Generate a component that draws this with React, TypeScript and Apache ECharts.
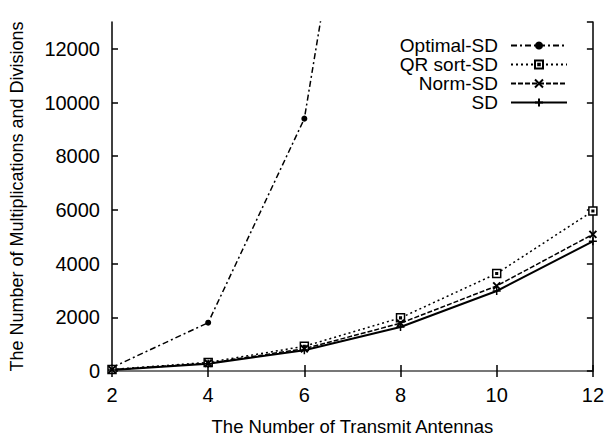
import React, { useEffect, useRef } from "react";
import * as echarts from "echarts";

const antennas = [2, 4, 6, 8, 10, 12];
const optimalSD = [130, 1800, 9400, 31000, 80000, 200000];
const qrSortSD = [60, 320, 920, 1980, 3630, 5960];
const normSD = [50, 290, 830, 1780, 3170, 5090];
const sd = [40, 270, 770, 1640, 2980, 4830];
const seriesNames = ["Optimal-SD", "QR sort-SD", "Norm-SD", "SD"];

const FONT = "Liberation Sans, Arial, sans-serif";

const pairs = (ys: number[]) => antennas.map((x, i) => [x, ys[i]]);

export default function App() {
  const ref = useRef<HTMLDivElement>(null);
  useEffect(() => {
    if (!ref.current) return;
    const chart = echarts.init(ref.current, undefined, { renderer: "svg" });
    const hLine = { show: true, lineStyle: { color: "#777", width: 2 } };
    const vLine = { show: true, lineStyle: { color: "#000", width: 1.5 } };
    const tick = { show: true, inside: true, length: 6, lineStyle: { color: "#000", width: 1.5 } };
    const label = { fontFamily: FONT, fontSize: 20, color: "#000" };
    const common = {
      type: "line",
      color: "#000",
      animation: false,
      clip: true,
      showAllSymbol: true,
    };
    chart.setOption({
      animation: false,
      backgroundColor: "#fff",
      grid: { left: 112, right: 13, top: 22, bottom: 61, containLabel: false },
      legend: {
        orient: "vertical",
        align: "right",
        right: 34,
        top: 31,
        itemWidth: 56,
        itemHeight: 10,
        itemGap: 0,
        textStyle: { fontFamily: FONT, fontSize: 19, color: "#000", padding: [0, 8, 0, 0] },
        data: seriesNames,
      },
      xAxis: [
        {
          type: "value",
          min: 2,
          max: 12,
          interval: 2,
          axisLine: hLine,
          axisTick: tick,
          axisLabel: { ...label, margin: 14 },
          splitLine: { show: false },
          name: "The Number of Transmit Antennas",
          nameLocation: "middle",
          nameGap: 46,
          nameTextStyle: { fontFamily: FONT, fontSize: 18.5, color: "#000" },
        },
        {
          type: "value",
          position: "top",
          min: 2,
          max: 12,
          interval: 2,
          axisLine: hLine,
          axisTick: tick,
          axisLabel: { show: false },
          splitLine: { show: false },
        },
      ],
      yAxis: [
        {
          type: "value",
          min: 0,
          max: 13000,
          interval: 2000,
          axisLine: vLine,
          axisTick: tick,
          axisLabel: { ...label, margin: 12, showMaxLabel: false, formatter: (v: number) => String(v) },
          splitLine: { show: false },
          name: "The Number of Multiplications and Divisions",
          nameLocation: "middle",
          nameGap: 86,
          nameTextStyle: { fontFamily: FONT, fontSize: 18, color: "#000" },
        },
        {
          type: "value",
          position: "right",
          min: 0,
          max: 13000,
          interval: 2000,
          axisLine: vLine,
          axisTick: tick,
          axisLabel: { show: false },
          splitLine: { show: false },
        },
      ],
      series: [
        {
          ...common,
          name: seriesNames[0],
          data: pairs(optimalSD),
          symbol: "circle",
          symbolSize: 6,
          itemStyle: { color: "#000" },
          lineStyle: { color: "#000", width: 1.5, type: [6, 3, 2, 3] },
        },
        {
          ...common,
          name: seriesNames[1],
          data: pairs(qrSortSD),
          symbol: "path://M0,0H10V10H0Z M4,4H6V6H4Z",
          symbolSize: 8,
          itemStyle: { color: "#fff", borderColor: "#000", borderWidth: 1.5 },
          lineStyle: { color: "#000", width: 1.5, type: [2, 3] },
        },
        {
          ...common,
          name: seriesNames[2],
          data: pairs(normSD),
          symbol: "path://M0,0L10,10M10,0L0,10",
          symbolSize: 7,
          itemStyle: { color: "#000", borderColor: "#000", borderWidth: 2 },
          lineStyle: { color: "#000", width: 1.5, type: [5, 2] },
        },
        {
          ...common,
          name: seriesNames[3],
          data: pairs(sd),
          symbol: "path://M5,0V10M0,5H10",
          symbolSize: 8,
          itemStyle: { color: "#000", borderColor: "#000", borderWidth: 1.5 },
          lineStyle: { color: "#000", width: 2, type: "solid" },
        },
      ],
    });
    return () => chart.dispose();
  }, []);
  return <div ref={ref} style={{ width: 607, height: 441, position: "absolute", left: 0, top: 0 }} />;
}
